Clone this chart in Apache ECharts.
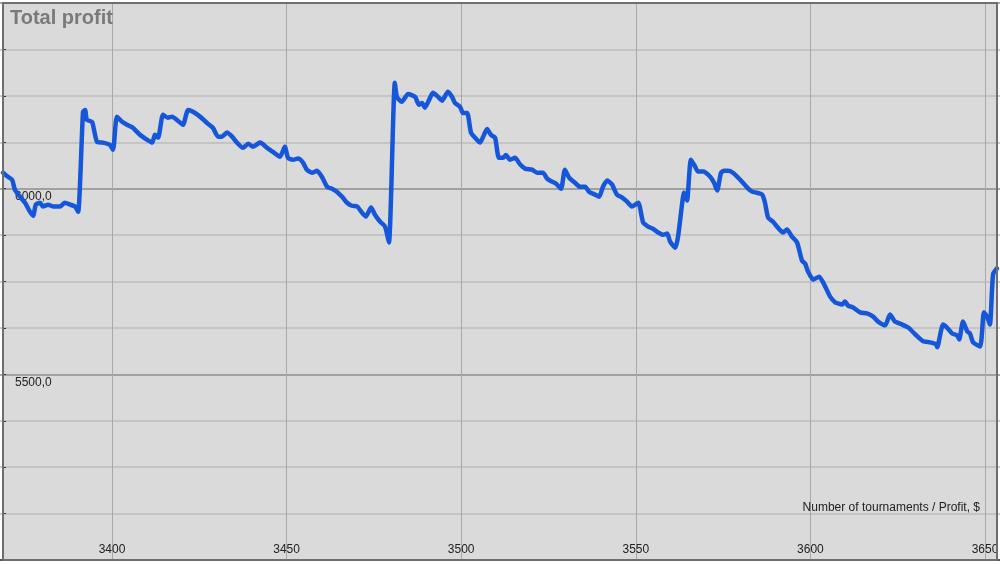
<!DOCTYPE html>
<html>
<head>
<meta charset="utf-8">
<script src="https://cdn.jsdelivr.net/npm/echarts@6/dist/echarts.min.js"></script>
<style>
html,body{margin:0;padding:0;background:#fff;}
#c{width:1000px;height:564px;}
</style>
</head>
<body>
<div id="c"></div>
<script>
// Number of tournaments
var tournaments = [
3368.8,3370.2,3371.4,3372.2,3373.7,3375.1,3376.5,3377.4,3378.2,3379.4,
3380.2,3381.7,3383.1,3385.1,3386.5,3388.0,3389.4,3390.3,3391.7,3392.3,
3392.8,3394.3,3395.7,3397.4,3399.4,3400.3,3401.4,3402.9,3404.3,3406.0,
3408.0,3410.0,3411.5,3412.3,3413.2,3414.6,3416.0,3417.2,3418.6,3420.3,
3421.8,3423.2,3425.2,3427.2,3428.9,3430.4,3431.5,3432.9,3434.4,3435.8,
3437.5,3439.0,3440.4,3442.4,3444.4,3446.1,3448.1,3449.5,3450.4,3451.8,
3453.3,3454.7,3455.8,3457.3,3458.7,3460.1,3461.6,3463.0,3464.4,3465.9,
3467.3,3468.7,3470.2,3471.6,3472.7,3474.2,3475.3,3476.8,3478.2,3479.3,
3481.0,3481.6,3483.0,3484.8,3486.8,3487.9,3488.8,3489.6,3490.8,3491.9,
3493.1,3494.5,3496.2,3497.4,3498.2,3499.7,3500.5,3501.7,3502.8,3504.0,
3505.4,3506.3,3507.4,3508.5,3509.7,3510.8,3512.0,3512.8,3514.0,3515.4,
3516.9,3518.3,3520.3,3521.7,3523.4,3524.6,3526.0,3527.2,3528.6,3529.7,
3530.9,3532.6,3534.0,3535.5,3536.6,3538.3,3539.5,3540.6,3541.8,3543.2,
3544.6,3546.1,3547.5,3548.9,3550.7,3552.1,3553.5,3554.9,3556.4,3557.8,
3559.0,3559.8,3561.3,3562.1,3563.3,3563.8,3564.7,3565.0,3565.8,3567.0,
3567.8,3569.3,3571.3,3572.4,3573.3,3574.4,3575.3,3576.4,3577.8,3579.9,
3581.9,3583.3,3584.7,3586.2,3587.0,3587.9,3589.3,3590.7,3592.2,3593.3,
3594.7,3596.2,3597.6,3598.5,3599.3,3600.8,3602.5,3604.2,3605.6,3607.1,
3609.1,3609.9,3610.8,3612.2,3614.2,3616.2,3617.9,3619.4,3621.4,3622.8,
3624.2,3626.3,3628.0,3630.0,3632.3,3634.3,3636.0,3636.3,3638.0,3639.1,
3640.6,3642.0,3642.6,3643.7,3644.9,3645.7,3646.6,3648.6,3649.7,3650.6,
3651.4,3652.3,3653.4
];
// Total profit, $
var profit = [
6043,6032,6024,5997,5978,5962,5938,5927,5957,5962,
5952,5957,5952,5952,5962,5957,5952,5938,6207,6212,
6185,6180,6126,6124,6118,6105,6194,6180,6172,6164,
6145,6132,6124,6145,6137,6199,6191,6194,6185,6172,
6212,6207,6194,6177,6164,6140,6140,6151,6140,6124,
6110,6121,6113,6124,6110,6099,6086,6113,6083,6078,
6081,6070,6051,6043,6048,6032,6005,6000,5992,5978,
5962,5954,5952,5935,5925,5949,5930,5911,5898,5855,
6285,6247,6234,6255,6247,6226,6231,6218,6239,6258,
6250,6237,6261,6247,6231,6220,6204,6204,6151,6137,
6124,6140,6161,6145,6137,6083,6083,6091,6078,6083,
6065,6054,6051,6043,6043,6027,6019,6013,6000,6051,
6030,6016,6005,6005,5992,5984,5978,6005,6022,6011,
5984,5976,5965,5952,5962,5909,5898,5892,5882,5876,
5879,5858,5841,5871,5962,5989,5968,5997,6078,6059,
6046,6046,6032,6016,5995,6043,6048,6048,6043,6024,
6003,5992,5989,5984,5962,5922,5911,5895,5882,5890,
5871,5855,5806,5798,5777,5755,5763,5737,5710,5694,
5688,5696,5685,5680,5667,5664,5656,5642,5632,5661,
5642,5634,5626,5608,5589,5586,5581,5573,5634,5626,
5610,5605,5594,5642,5616,5610,5586,5575,5667,5656,
5634,5769,5785
];
var xTicks = [3400, 3450, 3500, 3550, 3600, 3650];
var yLabelTicks = [5500, 6000];

var data = tournaments.map(function (t, i) { return [t, profit[i]]; });

var chart = echarts.init(document.getElementById('c'), null, {renderer: 'canvas'});
chart.setOption({
  animation: false,
  backgroundColor: '#ffffff',
  grid: {left: -62.6, width: 1134.9, top: 3, bottom: 4, containLabel: false, outerBoundsMode: 'none'},
  xAxis: {
    type: 'value', min: 3350, max: 3675, interval: 50,
    axisLine: {show: true, onZero: false, lineStyle: {color: '#555', width: 2}},
    axisTick: {show: false},
    axisLabel: {
      inside: true, margin: 4, color: '#222', fontSize: 12, fontFamily: 'Arial, Liberation Sans',
      formatter: function (v) { return xTicks.indexOf(v) >= 0 ? String(v) : ''; }
    },
    splitLine: {show: true, lineStyle: {color: '#a8a8a8', width: 1}}
  },
  yAxis: {
    type: 'value', min: 5000, max: 6500, interval: 125, offset: -65.6,
    axisLine: {show: true, lineStyle: {color: '#333', width: 2}},
    axisTick: {show: true, inside: true, length: 3, lineStyle: {color: '#333', width: 1}},
    axisLabel: {
      inside: true, margin: 12, color: '#222', fontSize: 12, fontFamily: 'Arial, Liberation Sans',
      verticalAlign: 'top', padding: [2, 0, 0, 0],
      formatter: function (v) { return yLabelTicks.indexOf(v) >= 0 ? v + ',0' : ''; }
    },
    splitLine: {show: true, lineStyle: {color: ['#8c8c8c', '#bdbdbd', '#bdbdbd', '#bdbdbd'], width: 1.5}}
  },
  graphic: [
    {type: 'rect', z: -10, silent: true, shape: {x: 3, y: 3, width: 994, height: 557}, style: {fill: '#dadada'}},
    {type: 'rect', z: 90, silent: true, shape: {x: 0, y: 561, width: 1000, height: 3}, style: {fill: '#ffffff'}},
    {type: 'rect', z: 100, silent: true, shape: {x: 3, y: 3, width: 994, height: 557}, style: {fill: null, stroke: '#6e6e6e', lineWidth: 2}},
    {type: 'text', z: 100, left: 10, top: 8, style: {text: 'Total profit', font: 'bold 20px Arial, Liberation Sans', fill: '#7a7a7a'}},
    {type: 'text', z: 100, right: 20, top: 502, style: {text: 'Number of tournaments / Profit, $', font: '12px Arial, Liberation Sans', fill: '#222'}}
  ],
  series: [{
    type: 'line', data: data, showSymbol: false, smooth: 0.2, z: 5,
    lineStyle: {color: '#1557d8', width: 4.5, join: 'round', cap: 'round'}
  }]
});
</script>
</body>
</html>
